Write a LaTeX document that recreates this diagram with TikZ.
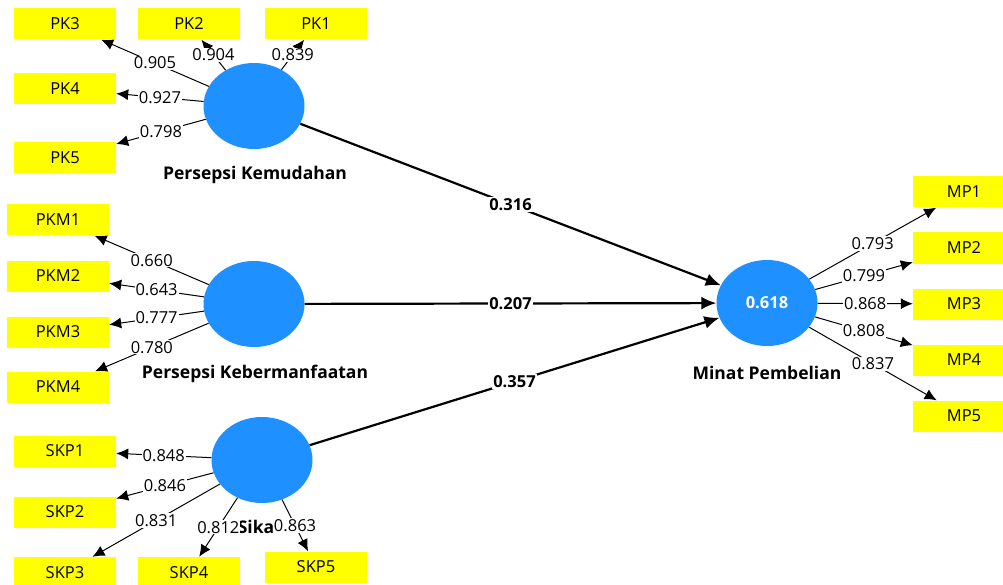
\documentclass[tikz,border=0pt]{standalone}
\usepackage{fontspec}
\setmainfont{Open Sans}
\usetikzlibrary{shapes.geometric,arrows.meta}
\definecolor{lvblue}{RGB}{30,144,255}
\definecolor{indyellow}{RGB}{255,255,0}

\begin{document}
\begin{tikzpicture}[x=1pt,y=-1pt,
    ind/.style={fill=indyellow, minimum width=102, minimum height=31, inner sep=0pt, font=\fontsize{16.5}{19}\selectfont},
    lv/.style={ellipse, fill=lvblue, minimum width=101, minimum height=86, inner sep=0pt},
    lvname/.style={font=\bfseries\fontsize{17.5}{20}\selectfont},
    load/.style={line width=1pt, -{Latex[length=12pt,width=11pt]}},
    coef/.style={line width=2.2pt, -{Latex[length=15pt,width=13pt]}},
    val/.style={fill=white, inner sep=1pt, font=\fontsize{16.5}{19}\selectfont},
    bval/.style={fill=white, inner sep=1pt, font=\bfseries\fontsize{16.5}{19}\selectfont}]
    \useasboundingbox (0,0) rectangle (1003,585);
    \clip (0,0) rectangle (1003,585);

    % latent variables
    \node[lv] (PK)  at (254,106) {};
    \node[lv] (PKM) at (254,304) {};
    \node[lv] (SKP) at (262,460) {};
    \node[lv, text=white, font=\bfseries\fontsize{16.5}{19}\selectfont] (MP) at (767,303) {0.618};

    \node[lvname] (PKname)  at (255,175) {Persepsi Kemudahan};
    \node[lvname] (PKMname) at (255,374) {Persepsi Kebermanfaatan};
    \node[lvname] (SKPname) at (256,527) {Sika};
    \node[lvname] (MPname)  at (767,373) {Minat Pembelian};

    % indicators
    \node[ind] (PK3) at (65,24)  {PK3};
    \node[ind] (PK2) at (189,24) {PK2};
    \node[ind] (PK1) at (316,24) {PK1};
    \node[ind] (PK4) at (65,89)  {PK4};
    \node[ind] (PK5) at (65,158) {PK5};

    \node[ind] (PKM1) at (58,220) {PKM1};
    \node[ind] (PKM2) at (58,276) {PKM2};
    \node[ind] (PKM3) at (58,332) {PKM3};
    \node[ind] (PKM4) at (58,387) {PKM4};

    \node[ind] (SKP1) at (65,451)    {SKP1};
    \node[ind] (SKP2) at (65,512)    {SKP2};
    \node[ind] (SKP3) at (65,572.5)  {SKP3};
    \node[ind] (SKP4) at (189,572.5) {SKP4};
    \node[ind] (SKP5) at (316,567)   {SKP5};

    \node[ind] (MP1) at (964,192) {MP1};
    \node[ind] (MP2) at (964,248) {MP2};
    \node[ind] (MP3) at (964,304) {MP3};
    \node[ind] (MP4) at (964,360) {MP4};
    \node[ind] (MP5) at (964,416) {MP5};

    % outer loadings
    \path (PK) edge[load] node[val] {0.905} (PK3)
               edge[load] node[val] {0.904} (PK2)
               edge[load] node[val] {0.839} (PK1)
               edge[load] node[val] {0.927} (PK4)
               edge[load] node[val] {0.798} (PK5);
    \path (PKM) edge[load] node[val] {0.660} (PKM1)
                edge[load] node[val] {0.643} (PKM2)
                edge[load] node[val] {0.777} (PKM3)
                edge[load] node[val] {0.780} (PKM4);
    \path (SKP) edge[load] node[val] {0.848} (SKP1)
                edge[load] node[val] {0.846} (SKP2)
                edge[load] node[val] {0.831} (SKP3)
                edge[load] node[val] {0.812} (SKP4)
                edge[load] node[val] {0.863} (SKP5);
    \path (MP) edge[load] node[val] {0.793} (MP1)
               edge[load] node[val] {0.799} (MP2)
               edge[load] node[val] {0.868} (MP3)
               edge[load] node[val] {0.808} (MP4)
               edge[load] node[val] {0.837} (MP5);

    % path coefficients
    \path (PK)  edge[coef] node[bval] {0.316} (MP);
    \path (PKM) edge[coef] node[bval] {0.207} (MP);
    \path (SKP) edge[coef] node[bval] {0.357} (MP);
\end{tikzpicture}
\end{document}
